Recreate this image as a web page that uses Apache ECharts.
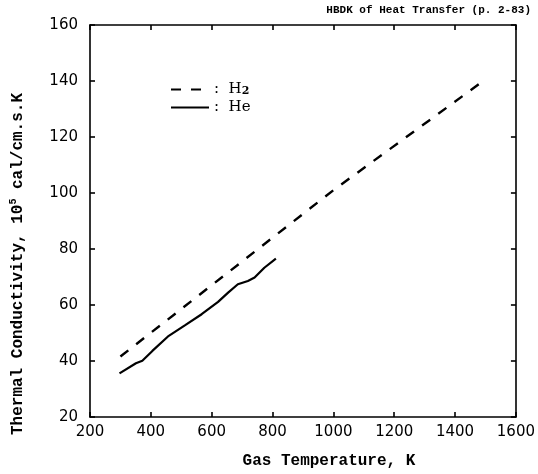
<!DOCTYPE html>
<html>
<head>
<meta charset="utf-8">
<script src="https://cdn.jsdelivr.net/npm/echarts@6/dist/echarts.min.js"></script>
<style>
  html, body { margin: 0; padding: 0; background: #fff; }
  #main { width: 538px; height: 474px; }
</style>
</head>
<body>
<div id="main"></div>
<script>
// x ticks / y ticks
const xTicks = [200, 400, 600, 800, 1000, 1200, 1400, 1600];
const yTicks = [20, 40, 60, 80, 100, 120, 140, 160];

// H2 (dashed) - gas temperature K, conductivity 1e-5 cal/cm.s.K
const h2Temp = [300, 1000, 1480];
const h2Cond = [41.6, 101, 139];

// He (solid)
const heTemp = [297, 351, 372, 405, 459, 513, 567, 621, 654, 686, 719, 741, 773, 811];
const heCond = [35.6, 39.2, 40.1, 43.6, 49.0, 52.8, 56.7, 61.1, 64.4, 67.4, 68.6, 69.8, 73.3, 76.6];

const pairs = (xs, ys) => xs.map((x, i) => [x, ys[i]]);

const mono = '"Liberation Mono", "DejaVu Sans Mono", monospace';
const serif = '"DejaVu Serif", serif';
const sans = '"DejaVu Sans", sans-serif';

const myChart = echarts.init(document.getElementById('main'));

const axisLine = { show: true, lineStyle: { color: '#000', width: 1.6 } };
const tick = { show: true, inside: true, length: 5, lineStyle: { color: '#000', width: 1.6 } };

let option = {
  backgroundColor: '#fff',
  animation: false,
  title: {
    text: 'HBDK of Heat Transfer (p. 2-83)',
    right: 2,
    top: 0,
    textStyle: { fontFamily: mono, fontWeight: 'bold', fontSize: 11, color: '#000' }
  },
  legend: {
    orient: 'vertical',
    left: 165,
    top: 77,
    itemWidth: 38,
    itemHeight: 14,
    itemGap: 3,
    data: ['H2', 'He'],
    itemStyle: { opacity: 0 },
    formatter: function (name) {
      if (name === 'H2') return ':  H{sub|2}';
      return ':  He';
    },
    textStyle: {
      fontFamily: serif,
      fontSize: 15,
      color: '#000',
      lineHeight: 14,
      rich: {
        sub: { fontFamily: serif, fontSize: 11, fontWeight: 'bold', color: '#000', verticalAlign: 'bottom', padding: [10, 0, 0, 0] }
      }
    }
  },
  grid: { left: 88, right: 22, top: 25, bottom: 56 },
  xAxis: [{
    type: 'value',
    min: 200, max: 1600, interval: 200,
    name: 'Gas Temperature, K',
    nameLocation: 'middle',
    nameGap: 36,
    nameTextStyle: { fontFamily: mono, fontWeight: 'bold', fontSize: 16, color: '#000', padding: [0, 0, 0, 52] },
    axisLine: axisLine,
    axisTick: tick,
    splitLine: { show: false },
    axisLabel: { color: '#000', fontFamily: sans, fontSize: 15, margin: 8, formatter: v => String(v) }
  }, {
    type: 'value',
    position: 'top',
    min: 200, max: 1600, interval: 200,
    axisLine: axisLine,
    axisTick: tick,
    splitLine: { show: false },
    axisLabel: { show: false }
  }],
  yAxis: [{
    type: 'value',
    min: 20, max: 160, interval: 20,
    name: 'Thermal Conductivity, 10{sup|5} cal/cm.s.K',
    nameLocation: 'middle',
    nameGap: 62,
    nameTextStyle: {
      fontFamily: mono, fontWeight: 'bold', fontSize: 16, color: '#000',
      padding: [0, 86, 0, 0],
      rich: { sup: { fontFamily: mono, fontWeight: 'bold', fontSize: 10, color: '#000', padding: [0, 0, 10, 0] } }
    },
    axisLine: axisLine,
    axisTick: tick,
    splitLine: { show: false },
    axisLabel: { color: '#000', fontFamily: sans, fontSize: 15, margin: 12 }
  }, {
    type: 'value',
    position: 'right',
    min: 20, max: 160, interval: 20,
    axisLine: axisLine,
    axisTick: tick,
    splitLine: { show: false },
    axisLabel: { show: false }
  }],
  series: [{
    name: 'H2',
    type: 'line',
    showSymbol: false,
    symbol: 'none',
    data: pairs(h2Temp, h2Cond),
    lineStyle: { color: '#000', width: 2.4, type: [10, 10] },
    itemStyle: { color: '#000' }
  }, {
    name: 'He',
    type: 'line',
    showSymbol: false,
    symbol: 'none',
    data: pairs(heTemp, heCond),
    lineStyle: { color: '#000', width: 2.2 },
    itemStyle: { color: '#000' }
  }]
};

myChart.setOption(option);
</script>
</body>
</html>
